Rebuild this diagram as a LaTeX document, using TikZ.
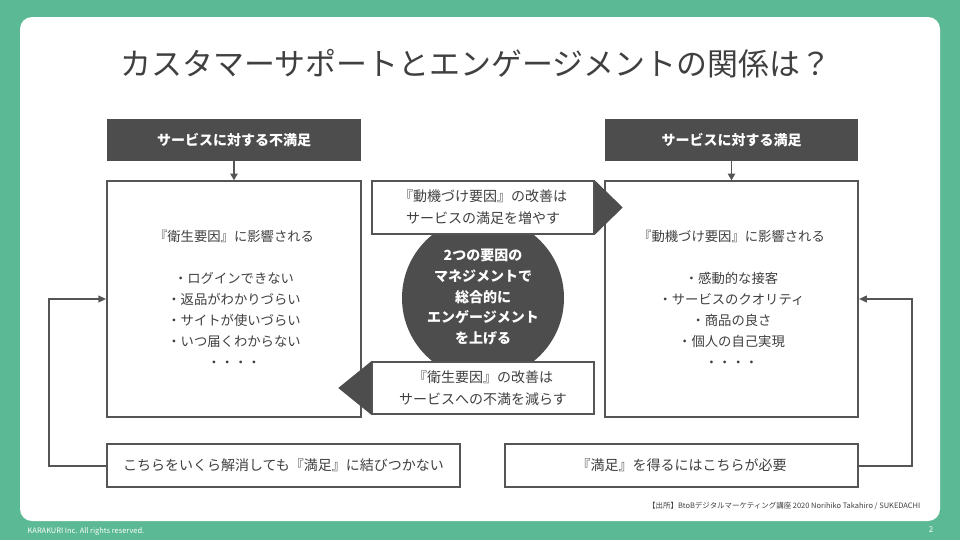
\documentclass[tikz,border=0pt]{standalone}
\usepackage{fontspec}
\setmainfont{Noto Sans CJK JP}
\usepackage{tikz}
\usetikzlibrary{arrows.meta}
\definecolor{slideGreen}{RGB}{91, 185, 149}
\definecolor{boxDark}{RGB}{77, 77, 77}
\definecolor{lineGray}{RGB}{85, 85, 85}
\definecolor{textGray}{RGB}{64, 64, 64}

\begin{document}
\begin{tikzpicture}[x=0.75pt, y=-0.75pt,
    header/.style={fill=boxDark, text=white, font=\fontsize{10.5}{12}\selectfont\bfseries,
      minimum width=190pt, minimum height=31.5pt, inner sep=0pt},
    panel/.style={draw=lineGray, line width=1.1pt, fill=white, text=textGray, align=center, inner sep=0pt},
    arr/.style={lineGray, line width=1.1pt, -{Triangle[length=5pt, width=5.5pt]}},
    back/.style={lineGray, line width=1.5pt, -{Triangle[length=6pt, width=5pt]}}]
    \useasboundingbox (0,0) rectangle (960,540);
    \fill[slideGreen] (0,0) rectangle (960,540);
    \fill[white, rounded corners=9pt] (20,17) rectangle (940,521);

    \node[text=textGray, font=\fontsize{23.2}{26}\selectfont] (title) at (476,64) {カスタマーサポートとエンゲージメントの関係は？};

    \node[header] (hdrL) at (234,140) {サービスに対する不満足};
    \node[header] (hdrR) at (731.5,140) {サービスに対する満足};

    \node[panel, minimum width=190.5pt, minimum height=177pt, font=\fontsize{10}{15.75}\selectfont] (boxL) at (234,299)
      {『衛生要因』に影響される\\[15.75pt]・ログインできない\\・返品がわかりづらい\\・サイトが使いづらい\\・いつ届くわからない\\・・・・};
    \node[panel, minimum width=190pt, minimum height=177pt, font=\fontsize{10}{15.75}\selectfont] (boxR) at (731.5,299)
      {『動機づけ要因』に影響される\\[15.75pt]・感動的な接客\\・サービスのクオリティ\\・商品の良さ\\・個人の自己実現\\・・・・};

    \draw[arr] (hdrL) -- (boxL);
    \draw[arr] (hdrR) -- (boxR);

    \fill[boxDark] (483,298) circle (60.75pt);
    \node[text=white, align=center, font=\fontsize{10.5}{15.5}\selectfont\bfseries] (core) at (483,297)
      {2つの要因の\\マネジメントで\\総合的に\\エンゲージメント\\を上げる};

    \node[panel, minimum width=166.5pt, minimum height=39.75pt, font=\fontsize{10.5}{16.5}\selectfont] (midT) at (483,207.5)
      {『動機づけ要因』の改善は\\サービスの満足を増やす};
    \node[panel, minimum width=166.5pt, minimum height=39pt, font=\fontsize{10.5}{16.5}\selectfont] (midB) at (483,388)
      {『衛生要因』の改善は\\サービスへの不満を減らす};
    \fill[boxDark] (midT.north east) -- ([xshift=21pt]midT.east) -- (midT.south east) -- cycle;
    \fill[boxDark] (midB.north west) -- ([xshift=-24.75pt]midB.west) -- (midB.south west) -- cycle;

    \node[panel, minimum width=264.75pt, minimum height=32.25pt, font=\fontsize{10.5}{12}\selectfont] (botL) at (283.5,465.5)
      {こちらをいくら解消しても『満足』に結びつかない};
    \node[panel, minimum width=264.75pt, minimum height=32.25pt, font=\fontsize{10.5}{12}\selectfont] (botR) at (681.5,465.5)
      {『満足』を得るにはこちらが必要};

    \coordinate (lft) at (49,0);
    \coordinate (rgt) at (912,0);
    \draw[back] (botL.west) -- (botL.west -| lft) |- (boxL.west);
    \draw[back] (botR.east) -- (botR.east -| rgt) |- (boxR.east);

    \node[anchor=east, text=textGray, font=\fontsize{5.6}{7}\selectfont] (src) at (925,506)
      {【出所】BtoBデジタルマーケティング講座 2020 Norihiko Takahiro / SUKEDACHI};
    \node[anchor=west, text=white, font=\fontsize{5.6}{6.5}\selectfont] (copy) at (23,531) {KARAKURI Inc. All rights reserved.};
    \node[text=white, font=\fontsize{6}{7}\selectfont] (page) at (931,530) {2};

\end{tikzpicture}
\end{document}
